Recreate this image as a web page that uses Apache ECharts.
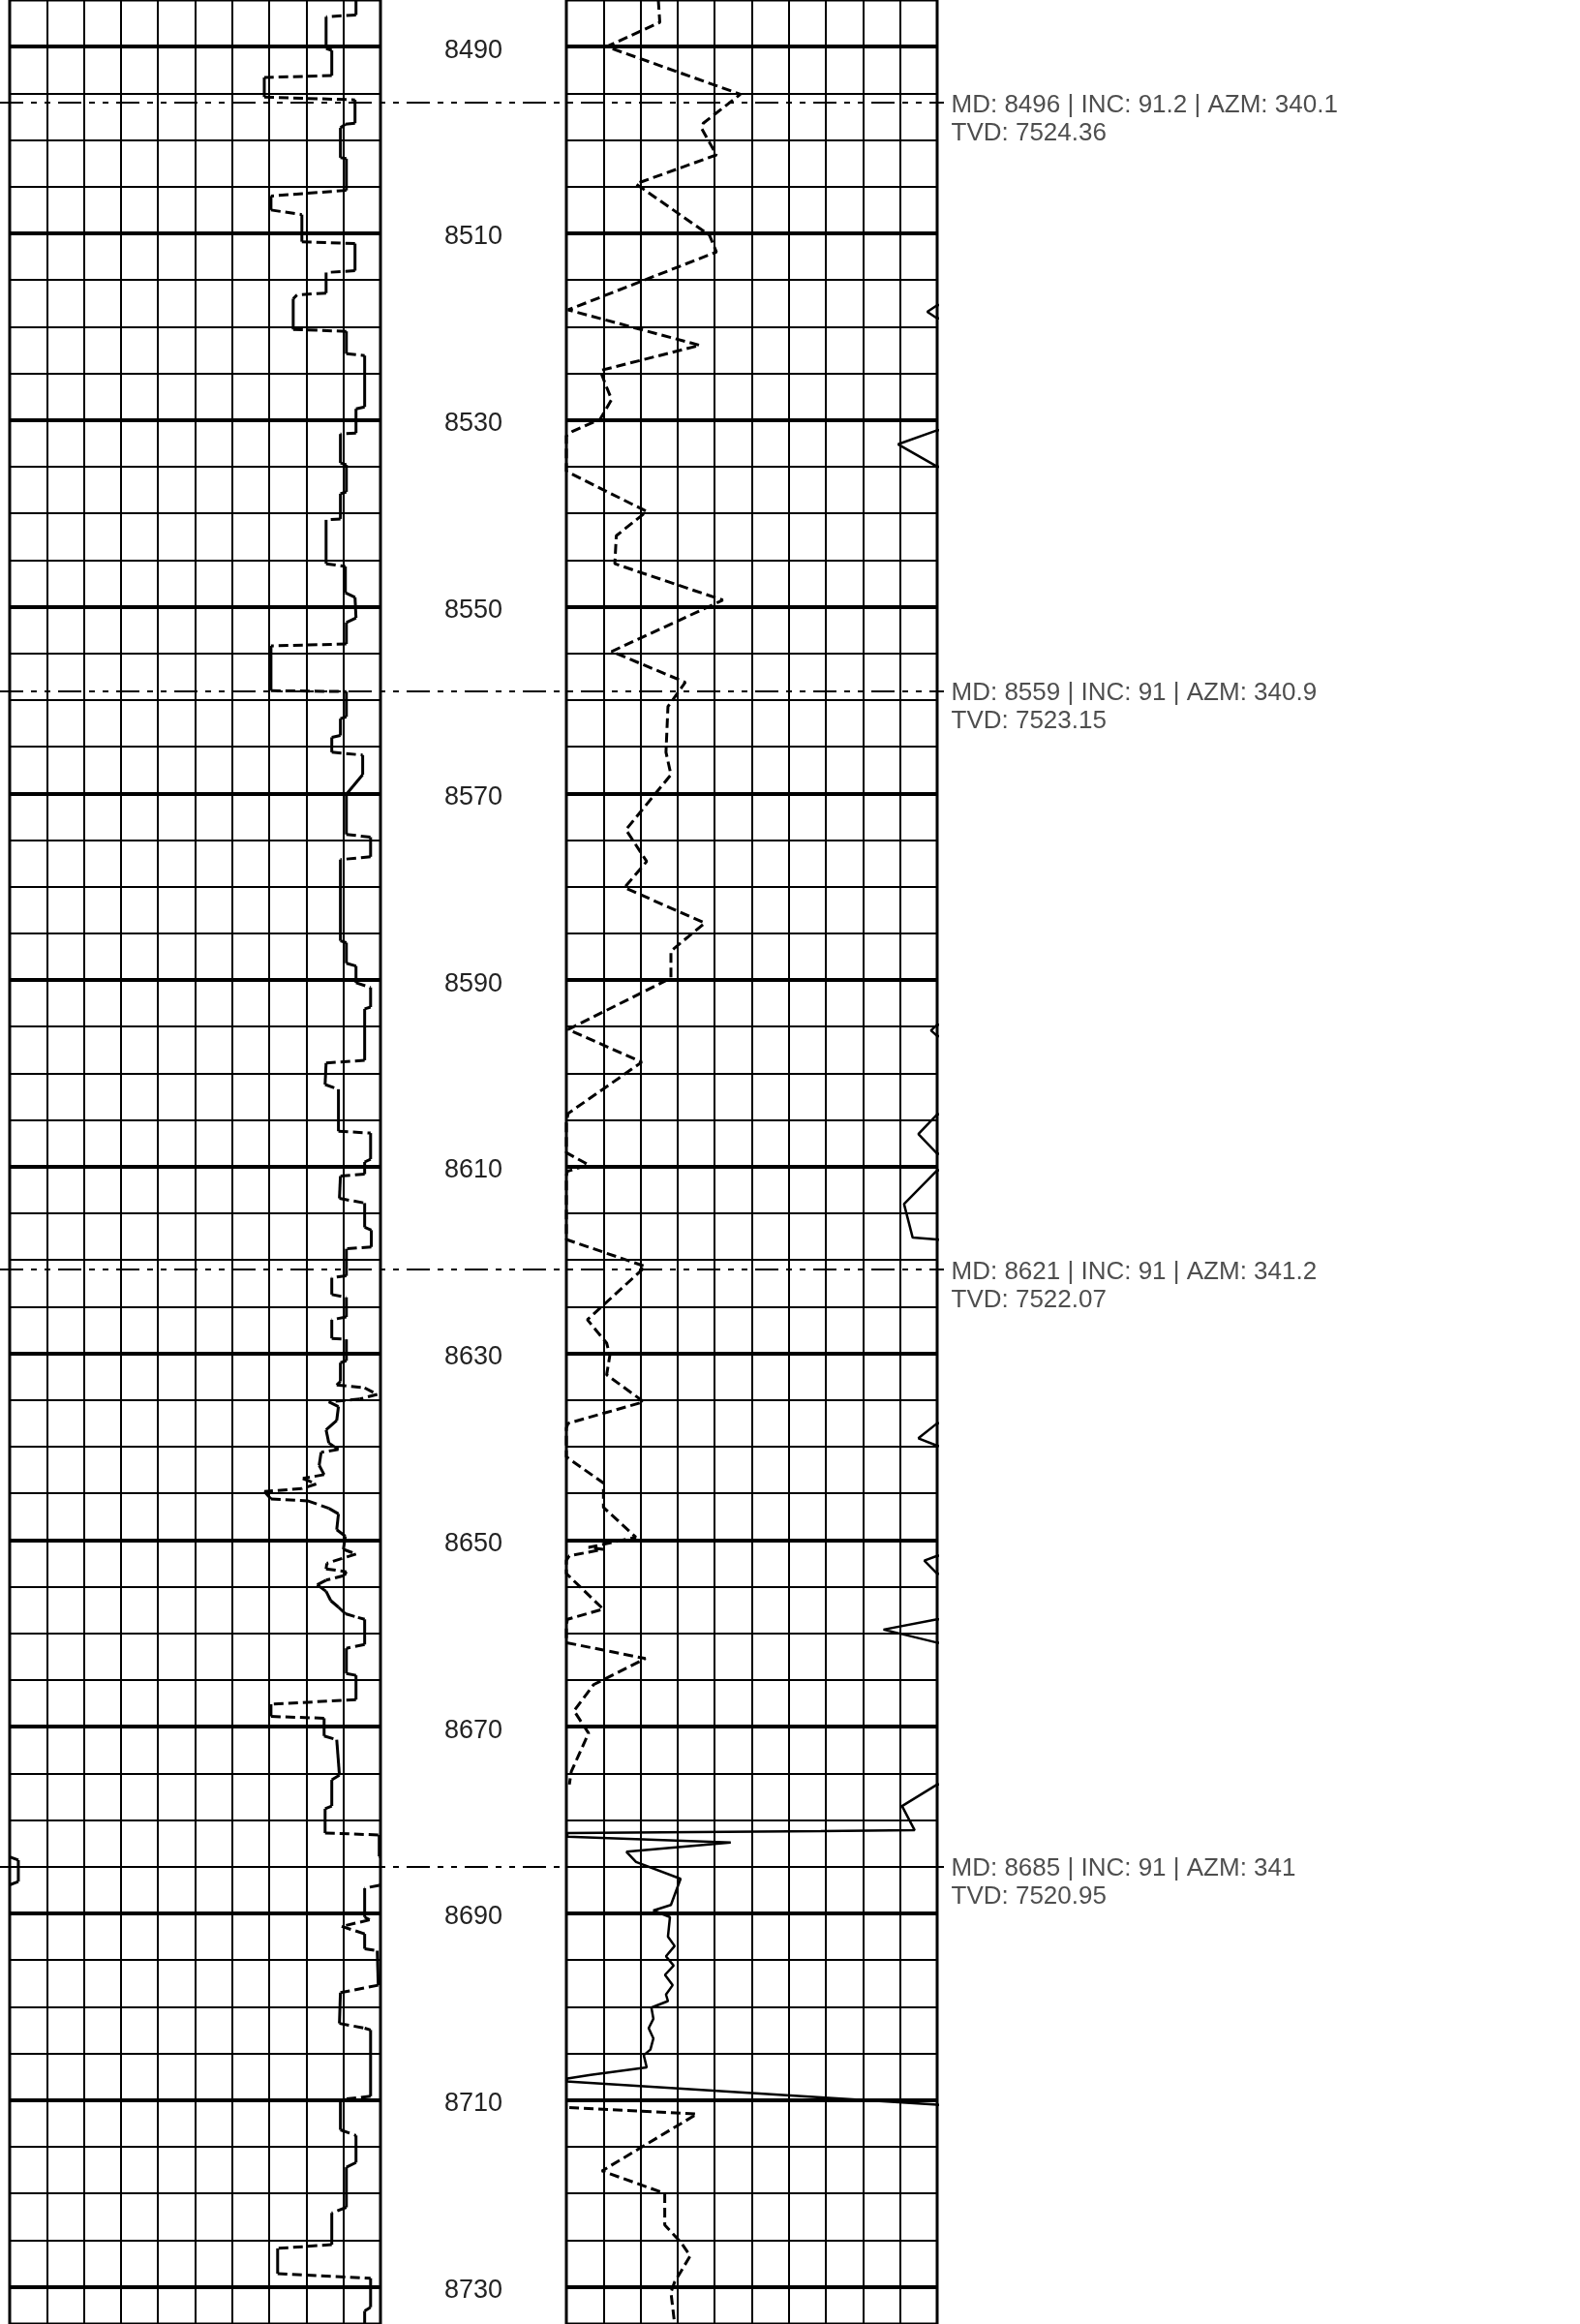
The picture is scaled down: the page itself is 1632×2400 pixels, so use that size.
<!DOCTYPE html>
<html><head><meta charset="utf-8">
<script src="https://cdn.jsdelivr.net/npm/echarts@6/dist/echarts.min.js"></script>
<style>html,body{margin:0;padding:0;background:#fff}#c{width:1632px;height:2400px}</style>
</head><body><div id="c"></div>
<script>
// ---- depth scale & labels ----
const depthMin = 8485, depthMax = 8734;
const depthLabels = [8490, 8510, 8530, 8550, 8570, 8590, 8610, 8630, 8650, 8670, 8690, 8710, 8730];

// ---- survey stations ----
const surveyMD  = [8496, 8559, 8621, 8685];
const surveyINC = [91.2, 91, 91, 91];
const surveyAZM = [340.1, 340.9, 341.2, 341];
const surveyTVD = ['7524.36', '7523.15', '7522.07', '7520.95'];

// ---- left track curve [value (0-150, wraps), depth] ----
const leftCurve = [
 [140.1,8485.0],[140.1,8486.6],[128,8486.8],[128,8490.2],[130.3,8490.4],[130.3,8493.1],[103,8493.3],[103,8495.4],
 [139.7,8495.7],[139.7,8498.2],[135.8,8498.3],[133.8,8498.7],[133.8,8501.9],[136.2,8502.0],[136.2,8505.4],[105.7,8506.0],
 [105.7,8507.5],[118.2,8508.0],[118.2,8510.9],[139.7,8511.1],[139.7,8514.0],[128,8514.2],[128,8516.4],[116.2,8516.6],
 [114.7,8517.0],[114.7,8520.3],[136.2,8520.5],[136.2,8522.9],[143.6,8523.1],[143.6,8528.6],[140.1,8528.8],[140.1,8531.4],
 [133.8,8531.5],[133.8,8534.6],[136.2,8534.8],[136.2,8537.7],[133.8,8537.9],[133.8,8540.6],[128,8540.7],[128,8545.4],
 [135.8,8545.7],[135.8,8548.5],[139.7,8549.0],[140.1,8551.2],[136.2,8551.7],[136.2,8554.0],[105.7,8554.2],[105.7,8559.0],
 [136.2,8559.1],[136.2,8561.8],[133.8,8562.0],[133.8,8563.8],[130.3,8564.0],[130.3,8565.6],[142.8,8565.9],[142.8,8568.0],
 [136.2,8570.1],[136.2,8574.4],[146,8574.7],[146,8576.8],[133.8,8577.1],[133.8,8585.8],[136.2,8586.0],[136.2,8588.2],
 [140.1,8588.5],[140.1,8590.3],[146,8590.8],[146,8592.9],[143.6,8593.1],[143.6,8598.6],[128,8598.9],[127.6,8601.2],
 [133,8601.7],[133,8606.2],[146,8606.4],[146,8609.2],[143.6,8609.5],[143.6,8610.8],[133.8,8611.0],[133.4,8613.4],
 [143.6,8613.9],[143.6,8616.5],[146.3,8616.8],[146.3,8618.6],[136.2,8618.8],[136.2,8621.7],[130.3,8621.9],[130.3,8623.7],
 [136.2,8624.0],[136.2,8626.1],[130.3,8626.4],[130.3,8628.4],[136.2,8628.5],[136.2,8630.8],[133.8,8631.0],[133.8,8633.0],
 [132.3,8633.4],[143.6,8633.7],[148.7,8634.4],[141.6,8634.9],[129.1,8635.2],[133,8635.7],[132.3,8637.2],[128,8638.2],
 [129.1,8639.6],[133,8640.3],[126,8640.6],[125.2,8642.0],[127.2,8643.0],[118.6,8643.4],[124,8644.0],[118.2,8644.5],
 [103,8644.8],[105.7,8645.6],[120.5,8645.8],[129.1,8646.6],[133,8647.2],[132.3,8648.9],[135.8,8649.6],[135,8651.0],
 [140.1,8651.5],[128.3,8652.5],[128,8653.1],[136.2,8653.4],[135.4,8653.8],[128,8654.3],[124.4,8654.8],[128,8655.5],
 [129.9,8656.5],[133,8657.2],[135.8,8657.9],[140.9,8658.3],[143.6,8658.5],[143.6,8661.2],[136.2,8661.6],[136.2,8664.3],
 [140.1,8664.5],[140.1,8667.1],[105.7,8667.6],[105.7,8668.9],[127.2,8669.1],[127.2,8671.0],[132.3,8671.4],[133.4,8675.2],
 [130.3,8675.7],[130.3,8678.5],[127.6,8678.8],[127.6,8681.4],[149.5,8681.6],[149.5,8683.9],[153.5,8684.3],[153.5,8686.6],
 [149.5,8687.0],[143.6,8687.3],[143.6,8690.4],[145.6,8690.7],[134.3,8691.4],[143.6,8692.2],[143.6,8693.8],[148.7,8694.0],
 [149.1,8697.7],[133.8,8698.5],[133.4,8701.8],[143.6,8702.3],[146,8702.5],[146,8709.6],[135.8,8709.9],[133.8,8710.1],
 [133.8,8713.2],[140.1,8713.8],[140.1,8716.7],[136.2,8717.2],[136.2,8721.5],[130.3,8722.1],[130.3,8725.5],[108.4,8725.9],
 [108.4,8728.6],[146,8729.1],[146,8732.2],[143.6,8732.6],[143.6,8734.0]
];

// ---- right track dashed curve [value 0-150, depth] ----
const rightDashed = [
 [37.2,8485.0],[37.8,8487.4],[16.3,8490.0],[70.4,8495.1],[55.4,8498.2],[54.8,8498.8],[60.7,8501.6],[28.1,8504.7],
 [57.9,8510.2],[60.7,8512.0],[0.7,8518.2],[54.0,8522.0],[13.7,8524.7],[16.3,8526.5],[18.3,8527.8],[13.7,8529.9],
 [2.6,8531.2],[0,8531.7],[0,8535.5],[32.5,8539.8],[20.2,8542.4],[19.6,8545.4],[63.3,8549.3],[18.3,8554.8],
 [48.1,8558.1],[41.1,8560.7],[40.3,8565.6],[42.3,8568.0],[24.1,8573.9],[32.5,8577.3],[23.5,8580.1],[56.0,8583.9],
 [42.3,8586.9],[42.3,8589.8],[0.7,8595.3],[30.5,8598.8],[0.7,8604.3],[0,8605.3],[0,8608.5],[9.0,8609.8],
 [0.4,8610.5],[0,8611.0],[0,8617.8],[32.0,8620.7],[8.5,8626.4],[16.3,8628.9],[17.6,8630.2],[16.3,8632.3],
 [31.3,8635.2],[0.7,8637.5],[0,8638.0],[0,8641.1],[15.0,8643.9],[15.0,8646.5],[28.1,8649.7],[9.0,8650.8],
 [14.9,8651.0],[1.2,8651.7],[0,8652.2],[0,8653.6],[14.9,8657.4],[0.4,8658.5],[0,8659.3],[0,8661.0],
 [32.0,8662.7],[11.0,8665.5],[3.1,8668.3],[9.0,8670.7],[2.0,8674.8],[1.2,8676.2],
 ['-','-'],
 [1.2,8710.8],[52.8,8711.5],[14.4,8717.6],[39.8,8720.0],[39.8,8723.4],[46.2,8725.2],[50.1,8726.7],[43.8,8729.5],
 [42.3,8730.6],[43.8,8734.0]
];

// ---- right track solid curve [value 0-150, off scale > 150, depth] ----
const rightSolid = [
 [160,8485.0],[160,8517.5],[150,8517.7],[146,8518.4],[150,8519.1],[160,8519.3],
 [160,8530.9],[150,8531.1],[134.2,8532.6],[150,8535.0],[160,8535.2],
 [160,8594.6],[150,8594.8],[147.5,8595.4],[150,8596.0],[160,8596.2],
 [160,8604.2],[150,8604.4],[142.4,8606.5],[150,8608.6],[160,8608.8],
 [160,8610.2],[150,8610.4],[136.6,8614.0],[140.1,8617.6],[150,8617.8],[160,8618.0],
 [160,8637.3],[150,8637.5],[142.4,8639.1],[150,8639.9],[160,8640.1],
 [160,8651.5],[150,8651.7],[144.8,8652.2],[150,8653.6],[160,8653.8],
 [160,8658.3],[150,8658.5],[128.3,8659.6],[150,8661.0],[160,8661.2],
 [160,8676.0],[150,8676.2],[135.8,8678.5],[140.9,8681.1],[102.9,8681.2],[0.4,8681.4],[0.4,8681.8],
 [66.5,8682.4],[24.3,8683.4],[28.2,8684.5],[46.2,8686.3],[42.3,8689.1],[35.2,8689.7],[41.9,8690.4],[41.1,8692.5],
 [43.8,8693.5],[40.3,8694.6],[43.4,8695.6],[39.9,8696.6],[43.0,8697.7],[40.3,8698.7],[41.1,8699.4],[34.4,8700.1],
 [35.2,8701.3],[33.3,8702.3],[35.2,8703.4],[34.0,8704.6],[31.3,8705.2],[32.5,8706.5],[9.8,8707.3],[0.4,8707.7],
 [0,8708.0],[150,8710.5],[160,8710.7],[160,8734.0]
];

const WRAP = 150;
function wrapSegs(a, b) {
  const fa = Math.floor(a[0] / WRAP), fb = Math.floor(b[0] / WRAP);
  if (fa === fb) return [[[a[0] - fa * WRAP, a[1]], [b[0] - fb * WRAP, b[1]]]];
  const edge = Math.max(fa, fb) * WRAP;
  const t = (edge - a[0]) / (b[0] - a[0]);
  const d = a[1] + t * (b[1] - a[1]);
  const aEdge = fa < fb ? WRAP : 0, bEdge = fa < fb ? 0 : WRAP;
  return [[[a[0] - fa * WRAP, a[1]], [aEdge, d]], [[bEdge, d], [b[0] - fb * WRAP, b[1]]]];
}

const FONT = "'Liberation Sans', Arial, sans-serif";
const thinGrid = { show: true, lineStyle: { color: '#000', width: 2 } };

function trackX(i) {
  return { gridIndex: i, type: 'value', min: 0, max: 150, interval: 15,
    axisLine: { show: false }, axisTick: { show: false }, axisLabel: { show: false }, splitLine: thinGrid };
}
function trackY(i, labels) {
  return { gridIndex: i, type: 'value', inverse: true, min: depthMin, max: depthMax, interval: 5,
    position: 'right', axisLine: { show: false }, axisTick: { show: false },
    axisLabel: labels ? { show: true, interval: 0, margin: 96, align: 'center', fontSize: 27, fontFamily: FONT, color: '#222',
      formatter: v => depthLabels.includes(v) ? '{d|' + v + '}' : '',
      rich: { d: { fontSize: 27, fontFamily: FONT, color: '#222', padding: [8, 0, 0, 0] } } } : { show: false },
    splitLine: thinGrid };
}
const thickLines = {
  silent: true, symbol: ['none', 'none'], label: { show: false },
  lineStyle: { type: 'solid', color: '#000', width: 4 },
  data: depthLabels.map(d => ({ yAxis: d }))
};

const chart = echarts.init(document.getElementById('c'), null, { renderer: 'canvas' });
chart.setOption({
  animation: false,
  backgroundColor: '#fff',
  grid: [
    { left: 10, width: 383, top: 0, bottom: 0, show: true, borderColor: '#000', borderWidth: 3, backgroundColor: 'transparent' },
    { left: 585, width: 383, top: 0, bottom: 0, show: true, borderColor: '#000', borderWidth: 3, backgroundColor: 'transparent' },
    { left: 0, width: 975, top: 0, bottom: 0, show: false }
  ],
  xAxis: [trackX(0), trackX(1), { gridIndex: 2, type: 'value', min: 0, max: 1, show: false }],
  yAxis: [trackY(0, true), trackY(1, false),
    { gridIndex: 2, type: 'value', inverse: true, min: depthMin, max: depthMax, show: false }],
  series: [
    { type: 'line', xAxisIndex: 0, yAxisIndex: 0, data: [], markLine: thickLines, z: 3 },
    { type: 'line', xAxisIndex: 1, yAxisIndex: 1, data: [], markLine: thickLines, z: 3 },
    {
      type: 'scatter', xAxisIndex: 2, yAxisIndex: 2, z: 4,
      data: surveyMD.map(m => [1, m]),
      symbolSize: 1, itemStyle: { color: 'rgba(0,0,0,0)' },
      label: {
        show: true, position: 'right', distance: 7, offset: [0, 17],
        fontFamily: FONT, fontSize: 26, lineHeight: 29, color: '#222',
        formatter: p => {
          const i = p.dataIndex;
          return 'MD: ' + surveyMD[i] + ' | INC: ' + surveyINC[i] + ' | AZM: ' + surveyAZM[i] + '\nTVD: ' + surveyTVD[i];
        }
      },
      markLine: {
        silent: true, symbol: ['none', 'none'], label: { show: false },
        lineStyle: { type: [24, 8, 6, 8, 6, 8], color: '#000', width: 1.8 },
        data: surveyMD.map(m => [{ coord: [0, m] }, { coord: [1, m] }])
      }
    },
    {
      type: 'custom', xAxisIndex: 0, yAxisIndex: 0, z: 5,
      data: leftCurve, encode: { x: 0, y: 1 },
      renderItem: (params, api) => {
        const i = params.dataIndex;
        if (i >= leftCurve.length - 1) return null;
        const segs = wrapSegs(leftCurve[i], leftCurve[i + 1]);
        return {
          type: 'group',
          children: segs.map(([p, q]) => {
            const P = api.coord(p), Q = api.coord(q);
            const dx = Math.abs(Q[0] - P[0]), dy = Math.abs(Q[1] - P[1]);
            return {
              type: 'line',
              shape: { x1: P[0], y1: P[1], x2: Q[0], y2: Q[1] },
              style: { stroke: '#000', lineWidth: 3, lineDash: (dx > dy && dx > 12) ? [10, 5] : null, lineCap: 'butt' }
            };
          })
        };
      }
    },
    {
      type: 'line', xAxisIndex: 1, yAxisIndex: 1, z: 5, data: rightDashed,
      symbol: 'none', connectNulls: false, clip: true,
      lineStyle: { color: '#000', width: 3, type: [10, 5] }
    },
    {
      type: 'line', xAxisIndex: 1, yAxisIndex: 1, z: 5, data: rightSolid,
      symbol: 'none', clip: true,
      lineStyle: { color: '#000', width: 2.5, type: 'solid' }
    }
  ]
});
</script></body></html>
